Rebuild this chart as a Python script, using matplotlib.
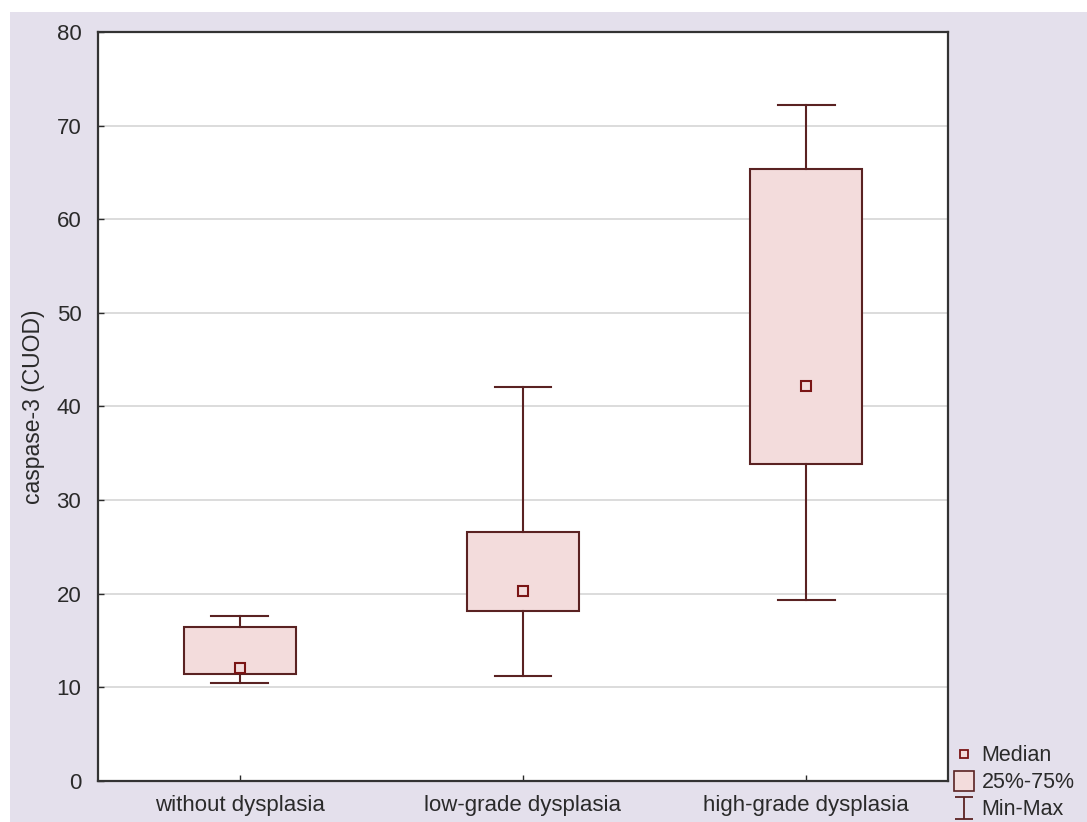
import matplotlib
matplotlib.use("Agg")
import matplotlib.pyplot as plt
from matplotlib.patches import Rectangle
from matplotlib.lines import Line2D
from matplotlib.path import Path

plt.rcParams['font.family'] = ['Liberation Sans', 'DejaVu Sans']

categories = ["without dysplasia", "low-grade dysplasia", "high-grade dysplasia"]
medians = [12.1, 20.3, 42.2]
q1 = [11.4, 18.2, 33.9]
q3 = [16.45, 26.55, 65.4]
mins = [10.5, 11.25, 19.3]
maxs = [17.6, 42.1, 72.2]
yticks = [0, 10, 20, 30, 40, 50, 60, 70, 80]

EDGE = "#5a2222"
FACE = "#f3dcdc"
BG = "#e4e0ec"
TXT = "#2a2a2a"

fig = plt.figure(figsize=(10.87, 8.22), dpi=100, facecolor="white")
fig.add_artist(Rectangle((10 / 1087, 0), 1 - 10 / 1087, 1 - 12 / 822,
                         transform=fig.transFigure, facecolor=BG,
                         edgecolor="none", zorder=-10))
ax = fig.add_axes([98 / 1087, 1 - 781 / 822, (948 - 98) / 1087, (781 - 32) / 822])
ax.set_facecolor("white")

stats = []
for i, c in enumerate(categories):
    stats.append(dict(label=c, med=medians[i], q1=q1[i], q3=q3[i],
                      whislo=mins[i], whishi=maxs[i], fliers=[]))
pos = list(range(len(categories)))
ax.bxp(stats, positions=pos, widths=0.395, patch_artist=True, showfliers=False,
       boxprops=dict(facecolor=FACE, edgecolor=EDGE, linewidth=1.5),
       whiskerprops=dict(color=EDGE, linewidth=1.5),
       capprops=dict(color=EDGE, linewidth=1.5),
       medianprops=dict(linewidth=0, color=FACE), capwidths=0.2, zorder=3)
ax.plot(pos, medians, linestyle="none", marker="s", markersize=7,
        markerfacecolor=FACE, markeredgecolor="#7a1515", markeredgewidth=1.5,
        zorder=5)

ax.set_xlim(-0.5, 2.5)
ax.set_ylim(0, 80)
ax.set_yticks(yticks)
ax.set_xticks(pos)
ax.set_xticklabels(categories)
ax.yaxis.grid(True, color="#d6d6d6", linewidth=1.2)
ax.set_axisbelow(True)
ax.tick_params(direction="in", length=4, width=1, labelsize=16, colors=TXT)
ax.tick_params(axis="x", pad=10)
ax.tick_params(axis="y", pad=12)
for s in ax.spines.values():
    s.set_color("#333333")
    s.set_linewidth(1.6)
ax.set_ylabel("caspase-3 (CUOD)", fontsize=16.5, color=TXT, labelpad=8)

ibeam = Path([(-0.8, -1), (0.8, -1), (0, -1), (0, 1), (-0.8, 1), (0.8, 1)],
             [Path.MOVETO, Path.LINETO, Path.MOVETO, Path.LINETO, Path.MOVETO, Path.LINETO])
handles = [
    Line2D([], [], linestyle="none", marker="s", markersize=6,
           markerfacecolor=FACE, markeredgecolor="#7a1515", markeredgewidth=1.3),
    Line2D([], [], linestyle="none", marker="s", markersize=14,
           markerfacecolor=FACE, markeredgecolor=EDGE, markeredgewidth=1.2),
    Line2D([], [], linestyle="none", marker=ibeam, markersize=16,
           markerfacecolor="none", markeredgecolor=EDGE, markeredgewidth=1.3),
]
leg = ax.legend(handles, ["Median", "25%-75%", "Min-Max"], loc="lower left",
                bbox_to_anchor=(0.994, -0.064), frameon=False, fontsize=15.5,
                handlelength=1.2, handletextpad=0.2, labelspacing=0.28,
                borderaxespad=0.2, borderpad=0.2)
for t in leg.get_texts():
    t.set_color(TXT)

fig.savefig("out.png", dpi=100, facecolor=fig.get_facecolor())
